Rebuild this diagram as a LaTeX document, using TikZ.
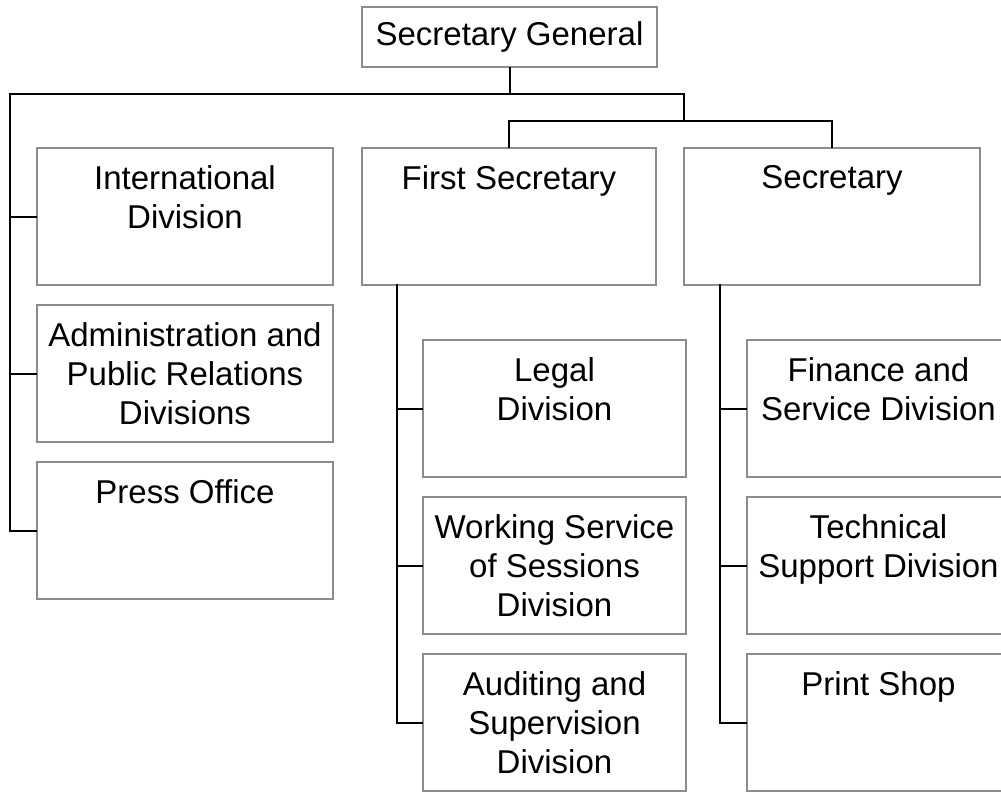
\documentclass[tikz,border=0pt]{standalone}
\usepackage{fontspec}
\setmainfont{Liberation Sans}
\begin{document}
\begin{tikzpicture}[x=1pt,y=-1pt,
  unit/.style={draw=boxgray, line width=2pt, fill=white, inner sep=0pt,
    minimum width=#1, minimum height=137pt},
  unit/.default=296pt,
  lbl/.style={anchor=north, inner sep=0pt, yshift=-18pt, align=center,
    font=\fontsize{33}{39}\selectfont},
  wire/.style={draw=black, line width=2pt, line cap=rect}]
\definecolor{boxgray}{RGB}{140,140,140}
\useasboundingbox (0,0) rectangle (1001,792);
\clip (0,0) rectangle (1001,792);

% top of the chart
\node[draw=boxgray, line width=2pt, inner sep=0pt, minimum width=295pt,
  minimum height=60pt, font=\fontsize{33}{39}\selectfont] (sg) at (509.5,37) {Secretary General};

% units reporting directly
\node[unit, label={[lbl]north:{International\\Division}}] (intl) at (185,216.5) {};
\node[unit, label={[lbl]north:{Administration and\\Public Relations\\Divisions}}] (admin) at (185,373.5) {};
\node[unit, label={[lbl]north:{Press Office}}] (press) at (185,530.5) {};

% deputies
\node[unit=294pt, label={[lbl]north:{First Secretary}}] (fs) at (509,216.5) {};
\node[unit, label={[lbl]north:{Secretary}}] (sec) at (832,216.5) {};

% under the First Secretary
\node[unit=263pt, label={[lbl]north:{Legal\\Division}}] (legal) at (554.5,408.5) {};
\node[unit=263pt, label={[lbl]north:{Working Service\\of Sessions\\Division}}] (work) at (554.5,565.5) {};
\node[unit=263pt, label={[lbl]north:{Auditing and\\Supervision\\Division}}] (audit) at (554.5,722.5) {};

% under the Secretary
\node[unit=263pt, label={[lbl]north:{Finance and\\Service Division}}] (fin) at (878.5,408.5) {};
\node[unit=263pt, label={[lbl]north:{Technical\\Support Division}}] (tech) at (878.5,565.5) {};
\node[unit=263pt, label={[lbl]north:{Print Shop}}] (print) at (878.5,722.5) {};

% junction points of the connector tree
\coordinate (lt) at (10,94);
\coordinate (rt) at (684,94);
\coordinate (j2) at (684,121);
\coordinate (fsv) at (397,285);
\coordinate (secv) at (720,285);

% main bus
\draw[wire] (sg.south) -- (sg.south |- lt);
\draw[wire] (rt) -- (lt) |- (press.west);
\draw[wire] (intl.west) -- (intl.west -| lt);
\draw[wire] (admin.west) -- (admin.west -| lt);
\draw[wire] (rt) -- (j2);
\draw[wire] (fs.north) |- (j2) -| (sec.north);

% First Secretary branch
\draw[wire] (fsv) |- (audit.west);
\draw[wire] (legal.west) -- (legal.west -| fsv);
\draw[wire] (work.west) -- (work.west -| fsv);

% Secretary branch
\draw[wire] (secv) |- (print.west);
\draw[wire] (fin.west) -- (fin.west -| secv);
\draw[wire] (tech.west) -- (tech.west -| secv);
\end{tikzpicture}
\end{document}
